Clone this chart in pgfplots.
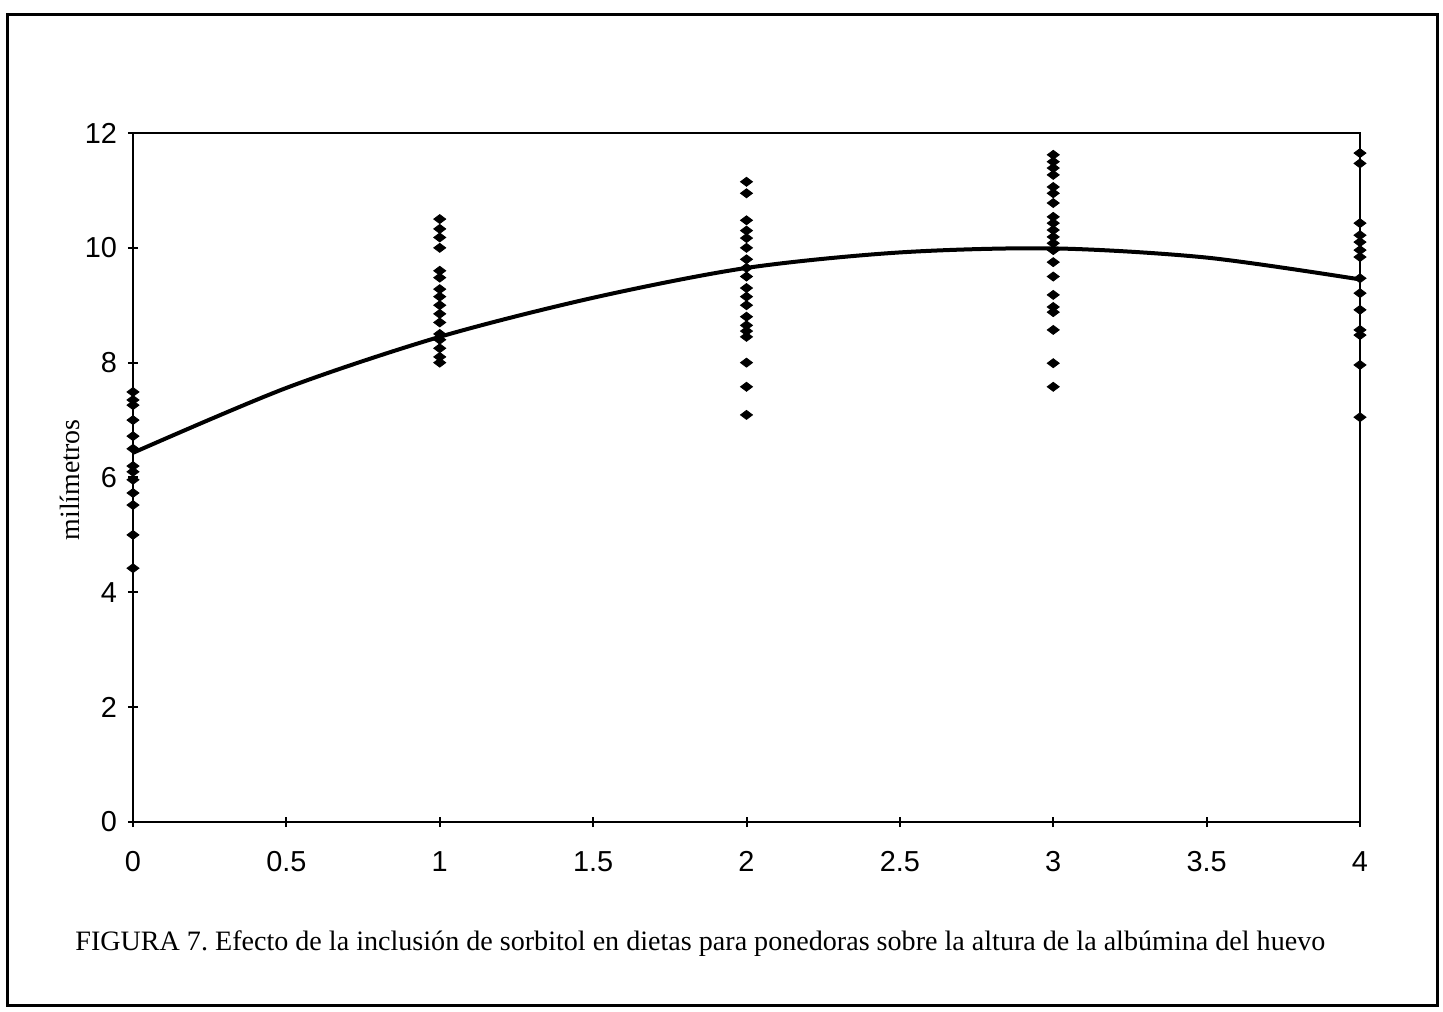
\documentclass[border=0pt]{standalone}
\usepackage{fontspec}
\setmainfont{Liberation Serif}
\newfontfamily\arial{Liberation Sans}
\usepackage{pgfplots}
\pgfplotsset{compat=1.18}
\frenchspacing
\begin{document}
\begin{tikzpicture}
\path[use as bounding box] (-66.5bp,-95bp) rectangle (655bp,411bp);
\draw[line width=1.5bp] (-62.5bp,-91.5bp) rectangle (652bp,403.5bp);
\begin{axis}[
  at={(0bp,0bp)}, anchor=south west,
  scale only axis, width=613.5bp, height=344.5bp,
  xmin=0, xmax=4, ymin=0, ymax=12,
  xtick={0,0.5,...,4}, ytick={0,2,...,12},
  xtick pos=left, ytick pos=left,
  tick align=center, major tick length=5bp,
  axis line style={line width=1bp}, tick style={line width=1bp, black},
  tick label style={font=\arial\fontsize{14.5}{16}\selectfont},
  /pgf/number format/assume math mode=true,
  xticklabel style={yshift=-8bp, text height=10.5bp, text depth=0bp},
  yticklabel style={xshift=-2bp},
  clip=false,
]
\addplot[only marks, mark=diamond*, mark size=3bp, mark options={rotate=90, fill=black, draw=black}] coordinates {
(0,7.49) (0,7.35) (0,7.26) (0,7.0) (0,6.72) (0,6.5) (0,6.2) (0,6.1) (0,5.96) (0,5.73) (0,5.52) (0,5.0) (0,4.42)
(1,10.5) (1,10.33) (1,10.18) (1,10.0) (1,9.6) (1,9.48) (1,9.28) (1,9.15) (1,9.0) (1,8.85) (1,8.7) (1,8.5) (1,8.4) (1,8.25) (1,8.1) (1,8.0)
(2,11.15) (2,10.95) (2,10.48) (2,10.3) (2,10.17) (2,10.0) (2,9.8) (2,9.65) (2,9.5) (2,9.3) (2,9.15) (2,9.0) (2,8.8) (2,8.65) (2,8.55) (2,8.45) (2,8.0) (2,7.58) (2,7.09)
(3,11.62) (3,11.5) (3,11.39) (3,11.27) (3,11.06) (3,10.95) (3,10.78) (3,10.54) (3,10.43) (3,10.31) (3,10.19) (3,10.08) (3,9.96) (3,9.75) (3,9.5) (3,9.18) (3,8.97) (3,8.88) (3,8.57) (3,7.99) (3,7.58)
(4,11.65) (4,11.47) (4,10.43) (4,10.22) (4,10.1) (4,9.96) (4,9.84) (4,9.47) (4,9.21) (4,8.92) (4,8.57) (4,8.48) (4,7.96) (4,7.05)
};
\addplot[black, line width=2bp, smooth, no marks] coordinates {
(0,6.43) (0.5,7.56) (1,8.45) (1.5,9.13) (2,9.65) (2.5,9.92) (3,9.99) (3.5,9.83) (4,9.45)
};
\end{axis}
\node[rotate=90, font=\fontsize{14}{16}\selectfont] at (-31.5bp,171bp) {milímetros};
\node[anchor=base west, font=\fontsize{14.1}{16}\selectfont, inner sep=0pt] at (-29bp,-64bp) {FIGURA 7. Efecto de la inclusión de sorbitol en dietas para ponedoras sobre la altura de la albúmina del huevo};
\end{tikzpicture}
\end{document}
